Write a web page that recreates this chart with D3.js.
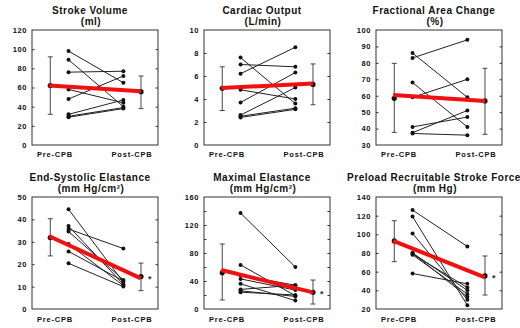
<!DOCTYPE html>
<html>
<head>
<meta charset="utf-8">
<script src="https://cdn.jsdelivr.net/npm/d3@7"></script>
<style>
  body { margin: 0; background: #fff; }
  svg { display: block; font-family: "Liberation Sans", Arial, sans-serif; }
  .title { font-size: 10px; font-weight: bold; fill: #111; letter-spacing: 0.5px; }
  .tick { font-size: 7.5px; font-weight: bold; fill: #111; letter-spacing: 0.6px; }
  .cat { font-size: 7.5px; font-weight: bold; fill: #111; letter-spacing: 0.8px; }
</style>
</head>
<body>
<div id="chart"></div>
<script>
// categories / labels
var categories = ["Pre-CPB", "Post-CPB"];
var titles = [
  ["Stroke Volume", "(ml)"],
  ["Cardiac Output", "(L/min)"],
  ["Fractional Area Change", "(%)"],
  ["End-Systolic Elastance", "(mm Hg/cm\u00b2)"],
  ["Maximal Elastance", "(mm Hg/cm\u00b2)"],
  ["Preload Recruitable Stroke Force", "(mm Hg)"]
];
var domains = [[0, 120], [0, 10], [30, 100], [0, 50], [0, 160], [20, 140]];
var tickLabels = [
  [0, 20, 40, 60, 80, 100, 120],
  [0, 2, 4, 6, 8, 10],
  [30, 40, 50, 60, 70, 80, 90, 100],
  [0, 10, 20, 30, 40, 50],
  [0, 40, 80, 120, 160],
  [20, 40, 60, 80, 100, 120, 140]
];
var tickMarks = [
  [20, 40, 60, 80, 100],
  [2, 4, 6, 8],
  [40, 50, 60, 70, 80, 90],
  [10, 20, 30, 40],
  [20, 40, 60, 80, 100, 120, 140],
  [40, 60, 80, 100, 120]
];

// individual patients, pre vs post
var svPre   = [98, 89, 76, 58, 48, 32, 30, 29];
var svPost  = [65, 40, 77, 44, 72, 47, 39, 38];
var coPre   = [7.6, 7.0, 6.2, 4.8, 3.7, 2.6, 2.5, 2.4];
var coPost  = [3.6, 6.8, 8.5, 4.0, 6.3, 5.0, 3.2, 3.1];
var facPre  = [86, 83, 68, 59, 41, 37.5, 37];
var facPost = [59, 94, 41, 70, 47, 51, 36];
var eesPre  = [44.5, 37, 35.7, 34.6, 29, 25.7, 20.4];
var eesPost = [12, 11, 27, 13, 10.5, 12.5, 10];
var emaxPre  = [137, 63, 48, 43, 36, 28, 26, 24];
var emaxPost = [60, 19, 34, 27, 12, 34, 18, 20];
var prsfPre  = [126, 119, 101, 80, 79, 78, 58, 80];
var prsfPost = [87, 24, 30, 40, 43, 36, 47, 33];

// group mean with SD, pre / post
var means  = [[62, 55.6], [4.93, 5.27], [58.4, 56.8], [31.9, 14.5], [51.9, 23.8], [92.9, 55.4]];
var lows   = [[32, 38], [3.0, 3.5], [37.7, 36.5], [23.7, 8.2], [12.9, 7.1], [70.7, 35]];
var highs  = [[92, 72], [6.8, 7.05], [79.7, 76.7], [40.3, 20.5], [92.9, 41.4], [114.6, 76.8]];
var trends = [[62, 56], [4.95, 5.35], [60.5, 56.8], [32.5, 13.7], [55.7, 23.8], [92.9, 54]];
var marks  = ["", "", "", "*", "*", "*"];

var pres = [svPre, coPre, facPre, eesPre, emaxPre, prsfPre];
var posts = [svPost, coPost, facPost, eesPost, emaxPost, prsfPost];

var W = 520, H = 328;
var svg = d3.select("#chart").append("svg").attr("width", W).attr("height", H);

var boxW = 126;
var lefts = [32, 204, 376];
var rows = [{ top: 30, bottom: 145, t1: 14, t2: 24.5, cat: 157 },
            { top: 197, bottom: 309, t1: 180.5, t2: 191.5, cat: 321.5 }];
// horizontal slots inside a box (fraction of width)
var slot = { preMean: 0.145, pre: 0.29, post: 0.725, postMean: 0.865 };

for (var i = 0; i < 6; i++) {
  var row = rows[Math.floor(i / 3)];
  var x0 = lefts[i % 3];
  var x = d3.scaleLinear().domain([0, 1]).range([x0, x0 + boxW]);
  var y = d3.scaleLinear().domain(domains[i]).range([row.bottom, row.top]);
  var g = svg.append("g");

  // titles
  var cx = x0 + boxW / 2 - 5;
  g.append("text").attr("class", "title").attr("x", cx).attr("y", row.t1)
    .attr("text-anchor", "middle").text(titles[i][0]);
  g.append("text").attr("class", "title").attr("x", cx + 1).attr("y", row.t2)
    .attr("text-anchor", "middle").text(titles[i][1]);

  // left axis labels + inner ticks on both sides
  var la = d3.axisLeft(y).tickValues(tickLabels[i]).tickSize(0).tickPadding(5)
    .tickFormat(d3.format("d"));
  var ag = g.append("g").attr("transform", "translate(" + x0 + ",0)").call(la);
  ag.select(".domain").remove();
  ag.selectAll("text").attr("class", "tick").attr("font-family", null).attr("font-size", null);

  var li = d3.axisRight(y).tickValues(tickMarks[i]).tickSize(2.5).tickFormat("");
  var ri = d3.axisLeft(y).tickValues(tickMarks[i]).tickSize(2.5).tickFormat("");
  var lg = g.append("g").attr("transform", "translate(" + x0 + ",0)").call(li);
  var rg = g.append("g").attr("transform", "translate(" + (x0 + boxW) + ",0)").call(ri);
  [lg, rg].forEach(function (s) {
    s.select(".domain").remove();
    s.selectAll("line").attr("stroke", "#333").attr("stroke-width", 1);
  });

  // frame
  g.append("rect").attr("x", x0).attr("y", row.top).attr("width", boxW)
    .attr("height", row.bottom - row.top).attr("fill", "none")
    .attr("stroke", "#333").attr("stroke-width", 1);

  // categories
  g.append("text").attr("class", "cat").attr("x", x0 + 23).attr("y", row.cat)
    .attr("text-anchor", "middle").text(categories[0]);
  g.append("text").attr("class", "cat").attr("x", x0 + 100).attr("y", row.cat)
    .attr("text-anchor", "middle").text(categories[1]);

  // individual lines
  var pairs = pres[i].map(function (v, k) { return [v, posts[i][k]]; });
  g.selectAll(".ind").data(pairs).enter().append("line")
    .attr("x1", x(slot.pre)).attr("x2", x(slot.post))
    .attr("y1", function (d) { return y(d[0]); })
    .attr("y2", function (d) { return y(d[1]); })
    .attr("stroke", "#222").attr("stroke-width", 1);
  g.selectAll(".dpre").data(pres[i]).enter().append("circle")
    .attr("cx", x(slot.pre)).attr("cy", function (d) { return y(d); })
    .attr("r", 2).attr("fill", "#111");
  g.selectAll(".dpost").data(posts[i]).enter().append("circle")
    .attr("cx", x(slot.post)).attr("cy", function (d) { return y(d); })
    .attr("r", 2).attr("fill", "#111");

  // mean +/- SD
  [slot.preMean, slot.postMean].forEach(function (s, k) {
    var xm = x(s);
    g.append("line").attr("x1", xm).attr("x2", xm)
      .attr("y1", y(lows[i][k])).attr("y2", y(highs[i][k]))
      .attr("stroke", "#333").attr("stroke-width", 0.9);
    [lows[i][k], highs[i][k]].forEach(function (v) {
      g.append("line").attr("x1", xm - 2.5).attr("x2", xm + 2.5)
        .attr("y1", y(v)).attr("y2", y(v))
        .attr("stroke", "#333").attr("stroke-width", 0.9);
    });
    g.append("circle").attr("cx", xm).attr("cy", y(means[i][k]))
      .attr("r", 2.6).attr("fill", "#111");
  });

  // red trend of means
  g.append("line")
    .attr("x1", x(slot.preMean) - 1).attr("x2", x(slot.postMean))
    .attr("y1", y(trends[i][0])).attr("y2", y(trends[i][1]))
    .attr("stroke", "#f01010").attr("stroke-width", 4);

  if (marks[i]) {
    g.append("text").attr("x", x(slot.postMean) + 7).attr("y", y(means[i][1]) + 5)
      .attr("font-size", "9px").attr("font-weight", "bold").attr("fill", "#333")
      .text(marks[i]);
  }
}
</script>
</body>
</html>
